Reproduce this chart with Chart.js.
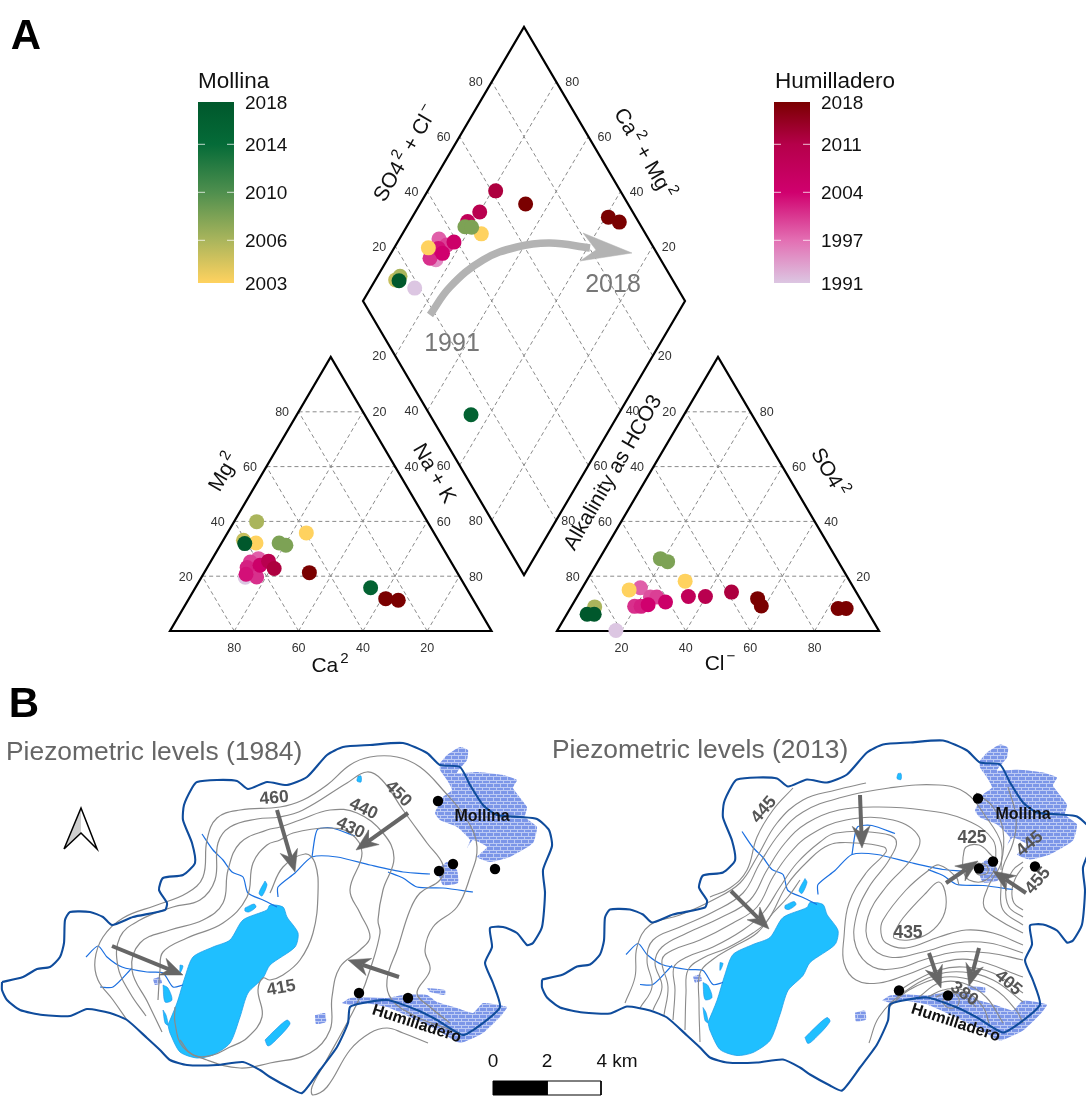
<!DOCTYPE html>
<html>
<head>
<meta charset="utf-8">
<title>Piper diagram and piezometric levels</title>
<script src="https://cdn.jsdelivr.net/npm/chart.js@4"></script>
<style>
  html, body { margin: 0; padding: 0; background: #fff; }
  canvas { display: block; }
</style>
</head>
<body>
<canvas id="myChart" width="1086" height="1096"></canvas>
<script>
// Piper values (percent)
const tickLevels = [20, 40, 60, 80];

const humYearsCat = [1991, 1998, 2000, 2001, 2002, 2003, 2005, 2010, 2012, 2018, 2018, 2018];
const humCa = [66.8, 59.3, 62.4, 63.2, 64.4, 66, 60, 56.6, 56.2, 46, 27, 23.4];
const humMg = [19.6, 26.4, 25.2, 19.7, 23.2, 20.7, 24, 25.5, 22.8, 21.3, 11.8, 11.2];
const molYearsCat = [2003, 2003, 2005, 2006, 2008, 2008, 2016, 2018];
const molCa = [57.2, 39.7, 60.6, 53.1, 50, 48.3, 29.7, 60.8];
const molMg = [32.1, 35.8, 33.1, 39.9, 32.1, 31.3, 15.8, 31.9];

const humYearsAn = [1991, 1998, 1999, 2000, 2001, 2002, 2004, 2005, 2008, 2010, 2012, 2018, 2018, 2018, 2018];
const humCl = [18.2, 18, 22.8, 24.8, 19.6, 21.6, 23.5, 28.4, 34.5, 39.8, 47.1, 56.4, 58.9, 83.2, 85.7];
const humSO4 = [0.2, 15.8, 12.4, 12.4, 9, 9, 9.6, 10.6, 12.6, 12.6, 14.2, 11.8, 9.1, 8.2, 8.2];
const molYearsAn = [2003, 2003, 2006, 2008, 2008, 2018, 2018];
const molCl = [14.9, 30.7, 7.3, 18.9, 21.7, 6.3, 8.5];
const molSO4 = [15, 18.2, 8.8, 26.4, 25.3, 6.1, 6.1];

const humYearsDia = [1991, 1995, 1998, 2000, 2001, 2003, 2004, 2005, 2008, 2010, 2012, 2018, 2018, 2018];
const humAnSum = [18.4, 30.2, 34.9, 36.2, 28.6, 33, 33.4, 39, 47, 52.5, 61.3, 68.2, 91.5, 94];
const humCatSum = [86.3, 84.9, 87.7, 84.2, 87, 86.2, 84, 82.5, 82, 80, 78.9, 67.2, 39.1, 34.8];
const molYearsDia = [2003, 2003, 2005, 2006, 2008, 2008, 2016, 2018];
const molAnSum = [30, 49, 14, 16, 45.2, 47.2, 12.8, 14.9];
const molCatSum = [89.4, 75.5, 93.7, 93, 81.9, 79.7, 45.7, 92.5];

const molTicks = [2018, 2014, 2010, 2006, 2003];
const humTicks = [2018, 2011, 2004, 1997, 1991];
const molRamp = [[2003, '#ffd25f'], [2006, '#aab55c'], [2010, '#4f8f4e'], [2014, '#056b38'], [2018, '#00582c']];
const humRamp = [[1991, '#dcc6e2'], [1997, '#e36fb3'], [2004, '#d0006e'], [2011, '#b5004a'], [2018, '#7a0000']];

const boundary = [[2,982],[23,977],[37,969],[50,967],[60,957],[64,943],[65,920],[70,912],[90,912],[103,917],[112,925],[133,917],[165,910],[167,903],[159,890],[163,878],[183,875],[195,863],[192,843],[183,820],[184,805],[192,788],[197,782],[217,780],[237,781],[248,789],[267,782],[287,785],[307,777],[327,755],[343,747],[370,745],[403,743],[427,753],[440,765],[460,767],[470,785],[483,805],[497,815],[520,817],[537,819],[549,830],[552,846],[543,870],[545,893],[542,927],[533,943],[527,945],[517,933],[503,927],[490,928],[492,947],[485,963],[493,983],[500,1007],[483,1023],[463,1035],[437,1020],[417,1010],[387,1000],[363,1003],[350,1007],[348,1023],[337,1047],[320,1070],[302,1093],[290,1088],[270,1077],[260,1070],[243,1062],[217,1065],[187,1065],[170,1060],[160,1050],[147,1038],[127,1020],[110,1013],[87,1009],[70,1016],[43,1015],[20,1010],[7,1000],[2,990],[2,982]];
const lake = [[168,1025],[177,1003],[185,977],[193,957],[213,947],[230,940],[243,920],[267,910],[270,905],[283,907],[287,917],[298,933],[295,947],[270,965],[263,978],[248,993],[240,1017],[230,1043],[213,1055],[197,1058],[180,1052],[170,1033]];
const ponds = [
  [[265,1040],[268,1046],[275,1041],[290,1024],[287,1020],[275,1030]],
  [[265,881],[267,885],[262,896],[259,893]],
  [[245,908],[254,904],[256,907],[249,912],[245,911]],
  [[358,776],[361,776],[361,782],[357,781]],
  [[163,985],[168,988],[172,1000],[165,1002]],
  [[163,1010],[166,1015],[168,1025],[165,1023]],
  [[180,965],[183,966],[180,973]]
];
const towns = [
  [[440,763],[447,755],[460,747],[468,750],[467,760],[457,773],[477,772],[503,775],[517,780],[513,788],[527,807],[525,817],[537,827],[533,843],[510,857],[490,862],[477,857],[487,847],[473,840],[467,848],[470,840],[457,827],[440,820],[435,813],[443,797],[452,790],[447,780],[440,770]],
  [[437,870],[447,862],[457,870],[458,883],[443,885]],
  [[342,1003],[350,998],[367,997],[387,998],[403,995],[427,995],[437,1002],[457,1008],[473,1013],[483,1003],[507,1007],[500,1017],[483,1033],[460,1043],[437,1030],[410,1017],[387,1007],[363,1003],[350,1005]],
  [[427,988],[445,990],[445,995],[430,992]],
  [[315,1015],[325,1013],[326,1022],[316,1024]],
  [[153,979],[160,977],[162,983],[155,985]]
];
const rivers = [
  [[202,834],[213,850],[223,860],[232,872],[243,877],[248,893],[263,900],[277,907]],
  [[278,897],[278,887],[295,873],[312,857],[337,857],[370,865],[403,872],[430,874]],
  [[312,857],[315,837],[318,829],[332,828],[355,836]],
  [[388,872],[403,878],[417,887],[443,888],[473,892]],
  [[86,957],[98,946],[107,957],[122,967],[147,972],[163,973],[173,987],[183,985]],
  [[132,968],[113,987],[100,987]]
];
const wells = [[438,801],[453,864],[439,871],[495,869],[359,993],[408,998]];

const contours1984 = [
  [[127,1020],[113,1000],[98,980],[95,960],[103,937],[123,918],[157,905],[187,893],[203,877],[207,840],[217,818],[240,810],[280,807],[303,800],[327,785],[350,765],[370,757],[397,757],[420,767],[443,790],[467,820],[477,847],[470,877],[457,907],[433,927],[425,950],[430,970],[417,993],[430,1007],[450,1023]],
  [[146,1016],[130,993],[118,967],[120,937],[140,920],[173,907],[200,900],[215,880],[218,843],[230,827],[257,819],[280,817],[303,810],[347,783],[367,772],[382,780],[403,810],[427,843],[443,865],[440,880],[420,893],[410,910],[398,947],[387,980],[392,1000],[417,1017],[443,1027],[460,1033]],
  [[162,1032],[148,1003],[132,970],[140,943],[170,930],[203,920],[223,903],[228,870],[240,843],[267,830],[280,827],[300,820],[330,810],[357,813],[383,833],[394,858],[383,890],[378,920],[380,933],[370,970],[360,997],[347,1023],[325,1063],[312,1087],[313,1095],[327,1087],[350,1050],[370,1033],[387,1028],[403,1033],[428,1043]],
  [[158,1000],[160,970],[163,952],[187,938],[223,923],[247,897],[253,863],[267,845],[280,840],[293,833],[327,828],[350,833],[362,853],[350,890],[360,913],[370,937],[360,950],[340,967],[332,997],[330,1030],[310,1053],[270,1063],[240,1068],[207,1060],[183,1047],[175,1023],[175,1007]],
  [[270,893],[283,867],[305,854],[315,863],[318,893],[313,933],[300,960],[283,975],[270,980],[263,978],[258,990],[262,1017],[247,1038],[230,1047],[213,1055],[193,1055],[180,1040]]
];
const contours2013 = [
  [[710,897],[730,888],[747,870],[757,837],[773,810],[793,788]],
  [[625,1003],[635,977],[637,947],[650,925],[680,915],[713,900],[740,883],[757,857],[777,823],[803,800],[836,790],[866,783]],
  [[640,1008],[652,987],[647,960],[653,940],[680,927],[713,912],[743,893],[760,863],[780,833],[803,812],[839,798],[889,788],[939,785],[966,793],[986,817],[1001,843],[1001,870]],
  [[653,1010],[662,987],[655,963],[662,947],[687,933],[720,918],[750,900],[767,870],[785,843],[807,823],[839,810],[879,807],[923,810],[966,820],[993,840],[996,863]],
  [[664,1015],[668,987],[662,960],[673,950],[700,940],[733,923],[757,907],[773,877],[790,853],[810,835],[846,820],[893,820],[919,837],[913,857],[886,887],[868,917],[869,943],[889,957],[923,952],[956,943],[989,943],[1023,953]],
  [[673,1020],[675,990],[674,967],[687,957],[713,947],[743,930],[763,913],[780,887],[797,863],[820,842],[836,833],[879,833],[896,840],[889,860],[869,887],[856,917],[856,947],[873,967],[899,968],[923,960],[956,952],[989,953],[1023,960]],
  [[685,1030],[686,993],[688,970],[703,958],[727,948],[753,933],[768,920],[787,885],[807,862],[829,845],[856,843],[884,847],[886,852],[866,873],[849,903],[844,937],[844,963],[856,980],[879,983],[906,975],[939,963],[973,960],[1023,977]],
  [[700,1042],[699,1003],[700,973],[712,960],[733,947],[757,933],[773,913],[788,897],[800,880]],
  [[894,933],[903,918],[926,893],[939,882],[946,897],[943,917],[929,933],[909,940],[894,938],[894,933]],
  [[959,885],[956,877],[939,865],[929,870],[906,890],[883,920],[881,933],[886,943],[906,948],[939,937],[966,930],[993,933],[1023,945]],
  [[963,857],[966,847],[979,845],[989,853],[996,863],[986,880],[969,880],[963,870],[963,857]],
  [[978,863],[986,865],[988,872],[981,875],[976,872],[978,863]],
  [[1008,787],[1016,817],[1013,843],[1003,867],[1001,887],[1003,910],[1023,925]],
  [[1023,862],[1013,870],[1006,887],[1009,907],[1023,917]],
  [[1023,867],[1016,877],[1012,890],[1014,903],[1023,910]],
  [[1023,933],[999,920],[984,907],[988,887],[1001,863],[1003,830],[993,807],[976,793]],
  [[869,1043],[879,1017],[903,993],[936,975],[963,972],[993,980],[1023,1002]],
  [[889,1007],[909,990],[939,978],[963,978],[993,988],[1016,1010],[1023,1023]],
  [[919,997],[939,983],[963,983],[986,997],[1003,1023]],
  [[928,997],[943,990],[963,990],[983,1007],[989,1023]],
  [[936,997],[949,992],[966,997],[976,1007]],
  [[943,1000],[949,993],[958,997],[958,1005],[949,1008],[943,1003],[943,1000]],
  [[896,993],[913,982],[939,970],[963,967],[993,973],[1023,993]]
];
// from x, from y, to x, to y
const flowArrows = [
  [112,946,183,975],[277,810,295,872],[408,813,356,850],[399,977,348,960],
  [731,891,769,929],[860,795,862,848],[946,883,978,861],[1026,893,993,871],[929,953,941,988],[979,948,969,986]
];
const trendCurve = [[430,315],[450,287],[483,260],[517,247],[550,243],[590,248]];
const kmTicks = [0, 2, 4];

// Layout
const triA = { left: 170, base: 631, w: 321.5, h: 274 };
const triB = { left: 557, base: 631, w: 322, h: 274 };
const dia = { cx: 524, bottom: 575, hw: 161, h: 274 };
const panel2 = { dx: 540, dy: -2.5 };
const barMol = { x: 216, top: 102, bottom: 283, mid: 192.3, perYear: 12 };
const barHum = { x: 792, top: 102, bottom: 283, mid: 192.3, perYear: 48 / 7 };

function triPoint(t, x, y) {
  return { x: t.left + (x + y / 2) / 100 * t.w, y: t.base - y / 100 * t.h };
}
function diaPoint(u, v) {
  return { x: dia.cx + (u - v) / 100 * dia.hw, y: dia.bottom - (u + v) / 100 * dia.h };
}
function shift(pts, d) {
  return pts.map(p => [p[0] + d.dx, p[1] + d.dy]);
}
function toXY(pts) {
  return pts.map(p => Array.isArray(p) ? { x: p[0], y: p[1] } : p);
}
function yearColor(ramp, year) {
  const hex = c => [1, 3, 5].map(i => parseInt(c.substr(i, 2), 16));
  for (let i = 0; i < ramp.length - 1; i++) {
    if (year <= ramp[i + 1][0]) {
      const t = Math.max(0, (year - ramp[i][0]) / (ramp[i + 1][0] - ramp[i][0]));
      const a = hex(ramp[i][1]), b = hex(ramp[i + 1][1]);
      return 'rgb(' + a.map((v, k) => Math.round(v + (b[k] - v) * t)).join(',') + ')';
    }
  }
  return ramp[ramp.length - 1][1];
}
function barY(bar, ticks, year) {
  // end labels sit on the ends of the bar
  if (year === ticks[0]) return bar.top;
  if (year === ticks[ticks.length - 1]) return bar.bottom;
  return bar.mid - (year - ticks[2]) * bar.perYear;
}

// brick fill for the town areas
const brickTile = document.createElement('canvas');
brickTile.width = 14; brickTile.height = 7;
const bc = brickTile.getContext('2d');
bc.fillStyle = '#7c96e8'; bc.fillRect(0, 0, 14, 7);
bc.fillStyle = '#bccaf4';
bc.fillRect(0, 3, 14, 1); bc.fillRect(0, 6, 14, 1);
bc.fillRect(3, 0, 1, 3); bc.fillRect(10, 0, 1, 3);
bc.fillRect(6, 3, 1, 3); bc.fillRect(13, 3, 1, 3);
const brick = bc.createPattern(brickTile, 'repeat');

const datasets = [];
function addLine(pts, color, width, extra) {
  datasets.push(Object.assign({
    data: toXY(pts), showLine: true, pointRadius: 0, borderColor: color,
    borderWidth: width, tension: 0, fill: false,
    borderCapStyle: 'butt', borderJoinStyle: 'round'
  }, extra || {}));
}
function addShape(pts, fillColor, lineColor, width, tension) {
  addLine(pts.concat([pts[0]]), lineColor, width, {
    fill: 'shape', backgroundColor: fillColor, tension: tension || 0
  });
}
function addPoints(pts, colors, radius) {
  datasets.push({
    data: toXY(pts), showLine: false, pointRadius: radius, pointBorderWidth: 0,
    pointBackgroundColor: colors, pointHoverRadius: radius
  });
}
function addArrow(a, lineW, headLen, headW, notch, color) {
  const ang = Math.atan2(a[3] - a[1], a[2] - a[0]);
  const c = Math.cos(ang), s = Math.sin(ang);
  const at = (along, off) => [a[2] + along * c - off * s, a[3] + along * s + off * c];
  addLine([[a[0], a[1]], at(-headLen + notch, 0)], color, lineW);
  addShape([[a[2], a[3]], at(-headLen, headW), at(-headLen + notch, 0), at(-headLen, -headW)], color, color, 0.5);
}

// dashed grids
const gridStyle = { borderDash: [4, 3] };
tickLevels.forEach(l => {
  [triA, triB].forEach(t => {
    addLine([triPoint(t, 0, l), triPoint(t, 100 - l, l)], '#8a8a8a', 1, gridStyle);
    addLine([triPoint(t, l, 0), triPoint(t, l, 100 - l)], '#8a8a8a', 1, gridStyle);
    addLine([triPoint(t, l, 0), triPoint(t, 0, l)], '#8a8a8a', 1, gridStyle);
  });
  addLine([diaPoint(l, 0), diaPoint(l, 100)], '#8a8a8a', 1, gridStyle);
  addLine([diaPoint(0, l), diaPoint(100, l)], '#8a8a8a', 1, gridStyle);
});
// outlines
const frame = { borderJoinStyle: 'miter' };
[triA, triB].forEach(t => {
  addLine([triPoint(t, 0, 0), triPoint(t, 100, 0), triPoint(t, 0, 100), triPoint(t, 0, 0), triPoint(t, 100, 0)], '#000', 2.2, frame);
});
addLine([diaPoint(0, 0), diaPoint(100, 0), diaPoint(100, 100), diaPoint(0, 100), diaPoint(0, 0), diaPoint(100, 0)], '#000', 2.2, frame);

// trend arrow
addLine(trendCurve, '#b3b3b3', 7.5, { tension: 0.4 });
addShape([[632, 253], [583, 233], [596, 250], [580, 261]], '#b3b3b3', '#b3b3b3', 0.5);

// samples, oldest first so the recent ones sit on top
addPoints(humCa.map((v, i) => triPoint(triA, 100 - v - humMg[i], humMg[i])), humYearsCat.map(y => yearColor(humRamp, y)), 7.5);
addPoints(molCa.map((v, i) => triPoint(triA, 100 - v - molMg[i], molMg[i])), molYearsCat.map(y => yearColor(molRamp, y)), 7.5);
addPoints(humCl.map((v, i) => triPoint(triB, v, humSO4[i])), humYearsAn.map(y => yearColor(humRamp, y)), 7.5);
addPoints(molCl.map((v, i) => triPoint(triB, v, molSO4[i])), molYearsAn.map(y => yearColor(molRamp, y)), 7.5);
addPoints(humAnSum.map((v, i) => diaPoint(v, humCatSum[i])), humYearsDia.map(y => yearColor(humRamp, y)), 7.5);
addPoints(molAnSum.map((v, i) => diaPoint(v, molCatSum[i])), molYearsDia.map(y => yearColor(molRamp, y)), 7.5);

// colour bars
function addBar(bar, ramp, ticks) {
  const corners = [[bar.x - 18, bar.top], [bar.x + 18, bar.top], [bar.x + 18, bar.bottom], [bar.x - 18, bar.bottom]];
  addShape(corners, function (ctx) {
    const ys = ctx.chart.scales.y;
    const y0 = ys ? ys.getPixelForValue(bar.top) : NaN;
    const y1 = ys ? ys.getPixelForValue(bar.bottom) : NaN;
    if (!isFinite(y0) || !isFinite(y1)) return ramp[0][1];
    const g = ctx.chart.ctx.createLinearGradient(0, y0, 0, y1);
    ramp.forEach(r => {
      g.addColorStop((barY(bar, ticks, r[0]) - bar.top) / (bar.bottom - bar.top), r[1]);
    });
    return g;
  }, 'rgba(0,0,0,0)', 0);
  ticks.slice(1, 4).forEach(y => {
    const py = barY(bar, ticks, y);
    addLine([[bar.x - 18, py], [bar.x - 11, py]], 'rgba(255,255,255,0.75)', 1);
    addLine([[bar.x + 11, py], [bar.x + 18, py]], 'rgba(255,255,255,0.75)', 1);
  });
}
addBar(barMol, molRamp, molTicks);
addBar(barHum, humRamp, humTicks);

// maps
const none = { dx: 0, dy: 0 };
[none, panel2].forEach(d => {
  towns.forEach(t => addShape(shift(t, d), brick, 'rgba(0,0,0,0)', 0, 0.15));
  ponds.forEach(p => addShape(shift(p, d), '#1fbfff', '#1f8fe8', 0.6, 0.3));
  addShape(shift(lake, d), '#1fbfff', '#1f9fe8', 0.8, 0.25);
  rivers.forEach(r => addLine(shift(r, d), '#1b6fe0', 1.2, { tension: 0.25 }));
});
contours1984.forEach(c => addLine(c, '#8a8a8a', 1.2, { tension: 0.4 }));
contours2013.forEach(c => addLine(c, '#8a8a8a', 1.1, { tension: 0.4 }));
[none, panel2].forEach(d => {
  addLine(shift(boundary, d), '#0f4c9c', 2.1, { tension: 0.2 });
});
flowArrows.forEach(a => addArrow(a, 4, 22, 9, 7, '#666'));
addPoints(wells, '#000', 5.2);
addPoints(shift(wells, panel2), '#000', 5.2);

// north arrow and scale bar
addShape([[81, 808], [64, 849], [81, 833]], '#cfcfcf', '#000', 0);
addLine([[64, 849], [81, 808], [97, 849], [81, 833], [64, 849]], '#000', 1.5, frame);
const kmX = km => 493 + km * 27;
addShape([[kmX(kmTicks[1]), 1081], [kmX(kmTicks[2]), 1081], [kmX(kmTicks[2]), 1095], [kmX(kmTicks[1]), 1095]], '#fff', '#000', 1);
addShape([[kmX(kmTicks[0]), 1081], [kmX(kmTicks[1]), 1081], [kmX(kmTicks[1]), 1095], [kmX(kmTicks[0]), 1095]], '#000', '#000', 1);

// labels
const sans = '"Liberation Sans", Arial, sans-serif';
const texts = [];
function label(parts, x, y, size, color, angle, weight, align) {
  texts.push({ parts: Array.isArray(parts) ? parts : [[parts]], x, y, size, color: color || '#222', angle: angle || 0, weight: weight || '', align: align || 'center' });
}
tickLevels.forEach(l => {
  const grey = '#333', s = 12.5;
  let p;
  p = triPoint(triA, 0, l); label(String(l), p.x - 16.5, p.y, s, grey);
  p = triPoint(triA, 100 - l, l); label(String(100 - l), p.x + 16.5, p.y, s, grey);
  p = triPoint(triA, 100 - l, 0); label(String(l), p.x, 647.5, s, grey);
  p = triPoint(triB, 0, 100 - l); label(String(l), p.x - 16.5, p.y, s, grey);
  p = triPoint(triB, l, 100 - l); label(String(100 - l), p.x + 16.5, p.y, s, grey);
  p = triPoint(triB, l, 0); label(String(l), p.x, 647.5, s, grey);
  p = diaPoint(l, 100); label(String(l), p.x - 16, p.y, s, grey);
  p = diaPoint(100, l); label(String(l), p.x + 16, p.y, s, grey);
  p = diaPoint(0, l); label(String(100 - l), p.x - 16, p.y, s, grey);
  p = diaPoint(l, 0); label(String(100 - l), p.x + 12, p.y, s, grey);
});
label([['Mg'], ['2', 1]], 223, 472, 21, '#111', -60);
label('Na + K', 435, 473, 21, '#111', 60);
label([['Ca'], ['2', 1]], 330, 665, 21, '#111');
label([['Cl'], ['\u2212', 1]], 720, 663, 21, '#111');
label([['SO4'], ['2', 1]], 830, 472, 21, '#111', 60);
label('Alkalinity as HCO3', 612, 472, 21, '#111', -60);
label([['SO4'], ['2', 1], [' + Cl'], ['\u2212', 1]], 405, 153, 21, '#111', -60);
label([['Ca'], ['2', 1], [' + Mg'], ['2', 1]], 645, 153, 21, '#111', 60);
label('1991', 452, 342, 25, '#777');
label('2018', 613, 283, 25, '#777');
label('A', 26, 34, 42, '#000', 0, 'bold');
label('B', 24, 702, 42, '#000', 0, 'bold');
label('Mollina', 198, 80, 22.5, '#111', 0, '', 'left');
label('Humilladero', 775, 80, 22.5, '#111', 0, '', 'left');
molTicks.forEach(y => label(String(y), 245, barY(barMol, molTicks, y), 19, '#111', 0, '', 'left'));
humTicks.forEach(y => label(String(y), 821, barY(barHum, humTicks, y), 19, '#111', 0, '', 'left'));
label('Piezometric levels (1984)', 6, 751, 26.4, '#666', 0, '', 'left');
label('Piezometric levels (2013)', 552, 749, 26.4, '#666', 0, '', 'left');
const bold = 'bold';
label('460', 274, 797, 17.5, '#555', -5, bold);
label('440', 364, 808, 17.5, '#555', 25, bold);
label('430', 351, 827, 17.5, '#555', 25, bold);
label('450', 399, 793, 17.5, '#555', 45, bold);
label('415', 281, 987, 17.5, '#555', -10, bold);
label('445', 763, 809, 17.5, '#555', -50, bold);
label('425', 972, 837, 17.5, '#555', 0, bold);
label('445', 1029, 843, 17.5, '#555', -40, bold);
label('455', 1037, 880, 17.5, '#555', -50, bold);
label('435', 908, 932, 17.5, '#555', 0, bold);
label('380', 965, 993, 17.5, '#555', 35, bold);
label('405', 1009, 982, 17.5, '#555', 40, bold);
label('Mollina', 482, 815, 16, '#111', 0, bold);
label('Humilladero', 417, 1023, 16, '#111', 18, bold);
label('Mollina', 1023, 813, 16, '#111', 0, bold);
label('Humilladero', 956, 1022, 16, '#111', 18, bold);
label(String(kmTicks[0]), kmX(kmTicks[0]), 1060, 19, '#111');
label(String(kmTicks[1]), kmX(kmTicks[1]), 1060, 19, '#111');
label(kmTicks[2] + ' km', 617, 1060, 19, '#111');

const textPlugin = {
  id: 'figureText',
  afterDatasetsDraw(chart) {
    const ctx = chart.ctx, sx = chart.scales.x, sy = chart.scales.y;
    texts.forEach(t => {
      const fonts = t.parts.map(p => (t.weight ? t.weight + ' ' : '') + (p[1] ? t.size * 0.72 : t.size) + 'px ' + sans);
      ctx.save();
      ctx.translate(sx.getPixelForValue(t.x), sy.getPixelForValue(t.y));
      ctx.rotate(t.angle * Math.PI / 180);
      ctx.fillStyle = t.color;
      ctx.textBaseline = 'middle';
      ctx.textAlign = 'left';
      const widths = t.parts.map((p, i) => { ctx.font = fonts[i]; return ctx.measureText(p[0]).width + (p[1] ? 2 : 0); });
      let pos = t.align === 'center' ? -widths.reduce((a, b) => a + b, 0) / 2 : 0;
      const drop = t.size * 0.07;
      t.parts.forEach((p, i) => {
        ctx.font = fonts[i];
        ctx.fillText(p[0], pos + (p[1] ? 2 : 0), drop + (p[1] ? -t.size * 0.35 : 0));
        pos += widths[i];
      });
      ctx.restore();
    });
  }
};

const myChart = new Chart(document.getElementById('myChart'), {
  type: 'scatter',
  // chart.js paints the first dataset last
  data: { datasets: datasets.reverse() },
  options: {
    responsive: false,
    animation: false,
    events: [],
    layout: { padding: 0, autoPadding: false },
    plugins: { legend: { display: false }, tooltip: { enabled: false } },
    scales: {
      x: { type: 'linear', min: 0, max: 1086, display: false },
      y: { type: 'linear', min: 0, max: 1096, reverse: true, display: false }
    }
  },
  plugins: [textPlugin]
});
myChart.update();
</script>
</body>
</html>
